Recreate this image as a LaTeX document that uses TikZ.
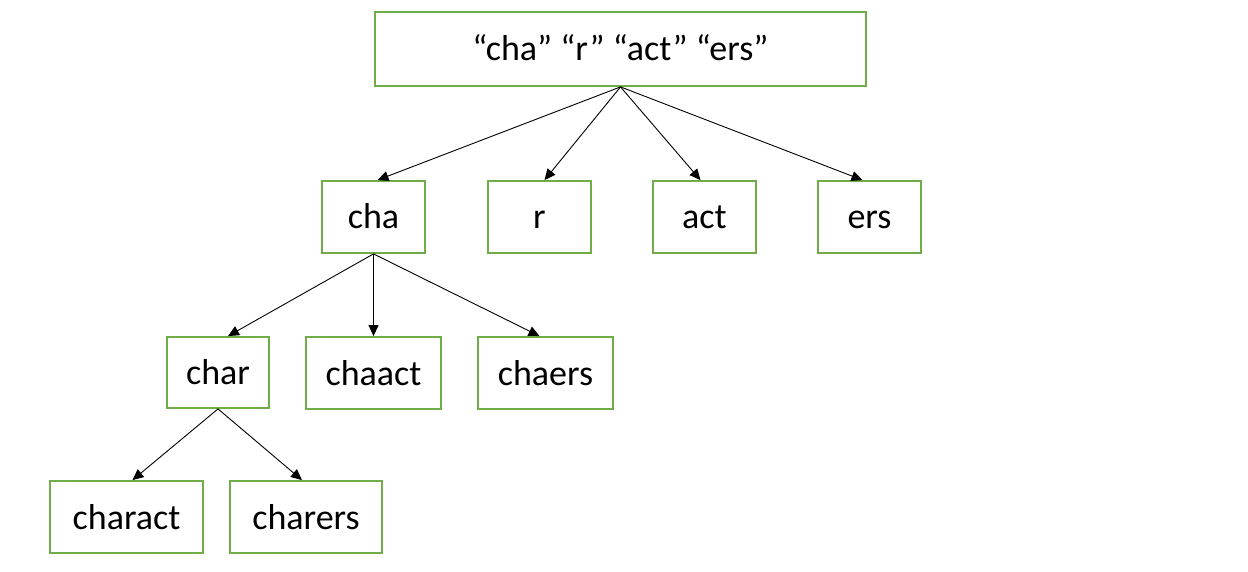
\documentclass[tikz,border=0pt]{standalone}
\usepackage{fontspec}
\setmainfont{Carlito}
\usetikzlibrary{arrows.meta}
\definecolor{boxgreen}{HTML}{70AD47}
\begin{document}
\begin{tikzpicture}[x=1pt,y=-1pt,
  box/.style={draw=boxgreen,line width=1.8pt,fill=white,inner sep=0pt,
    text height=26pt,text depth=2pt,
    font=\fontsize{36}{42}\selectfont},
  link/.style={draw=black,line width=0.9pt,-{Triangle[length=11pt,width=10pt]}}]
\useasboundingbox (0,0) rectangle (1248,572);
\node[box,minimum width=491pt,minimum height=74pt] (top) at (620.5,49) {“cha” “r” “act” “ers”};
\node[box,minimum width=103pt,minimum height=72pt] (cha) at (373.5,217) {cha};
\node[box,minimum width=103pt,minimum height=72pt] (r) at (539.5,217) {r};
\node[box,minimum width=103pt,minimum height=72pt] (act) at (704.5,217) {act};
\node[box,minimum width=103pt,minimum height=72pt] (ers) at (869.5,217) {ers};
\node[box,minimum width=102pt,minimum height=71pt] (char) at (218,372.5) {char};
\node[box,minimum width=135pt,minimum height=72pt] (chaact) at (373.5,373) {chaact};
\node[box,minimum width=135pt,minimum height=72pt] (chaers) at (545.5,373) {chaers};
\node[box,minimum width=153pt,minimum height=72pt] (charact) at (126.5,517) {charact};
\node[box,minimum width=152pt,minimum height=72pt] (charers) at (306,517) {charers};
\draw[link] (top.south) -- ([xshift=4pt]cha.north);
\draw[link] (top.south) -- ([xshift=5pt]r.north);
\draw[link] (top.south) -- ([xshift=-4pt]act.north);
\draw[link] (top.south) -- ([xshift=-7pt]ers.north);
\draw[link] (cha.south) -- ([xshift=10pt]char.north);
\draw[link] (cha.south) -- (chaact.north);
\draw[link] (cha.south) -- ([xshift=-6pt]chaers.north);
\draw[link] (char.south) -- ([xshift=6pt]charact.north);
\draw[link] (char.south) -- ([xshift=-4pt]charers.north);
\end{tikzpicture}
\end{document}
